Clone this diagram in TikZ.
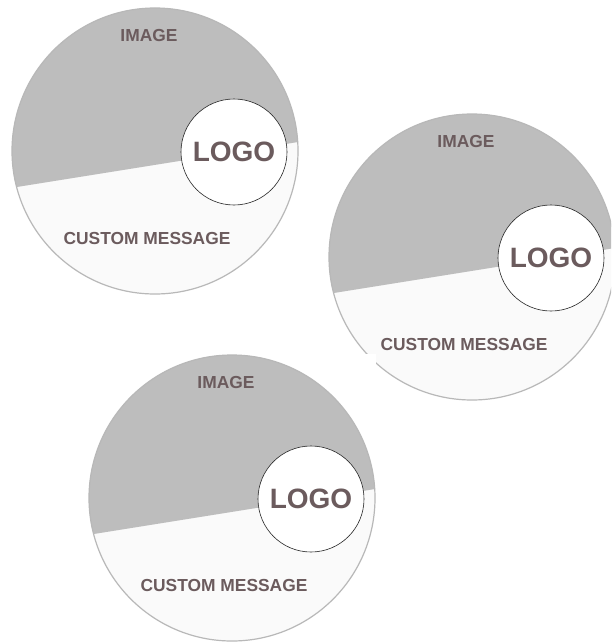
\documentclass[tikz,border=0pt]{standalone}
\usepackage{fontspec}
\setmainfont{Liberation Sans}
\definecolor{photo}{HTML}{BDBDBD}
\definecolor{paper}{HTML}{FAFAFA}
\definecolor{ink}{HTML}{6B5B5D}
\begin{document}
\begin{tikzpicture}[x=1pt,y=-1pt,
			every node/.style = {text=ink, inner sep=0pt},
			label text/.style = {font=\fontsize{17.4}{18}\selectfont\bfseries},
			logo ring/.style = {circle, draw=black!85, line width=0.6pt, fill=white,
				minimum size=106pt, font=\fontsize{28}{30}\selectfont\bfseries},
			rim/.style = {draw=black!28, line width=1.2pt}]
			
			\useasboundingbox (0,0) rectangle (611,642);
			\clip (0,0) rectangle (611,642);
			
			\foreach \i/\cx/\cy in {1/155/151, 2/472/257, 3/232/498} {
				\begin{scope}[shift={(\cx,\cy)}]
					% white card behind each badge
					\fill[white] (-144,-144) rectangle (144,144);
					\fill[paper] (0,0) circle (143);
					\begin{scope}
						\clip (0,0) circle (143);
						\fill[photo] (-160,39.5) -- (160,-11.7) -- (160,-160) -- (-160,-160) -- cycle;
					\end{scope}
					\draw[rim] (0,0) circle (143);
					\node[label text] (image\i) at (-6,-115) {IMAGE};
					\node[label text] (message\i) at (-8,88) {CUSTOM MESSAGE};
					\node[logo ring] (logo\i) at (79,1) {LOGO};
				\end{scope}
			}
			\end{tikzpicture}
\end{document}
